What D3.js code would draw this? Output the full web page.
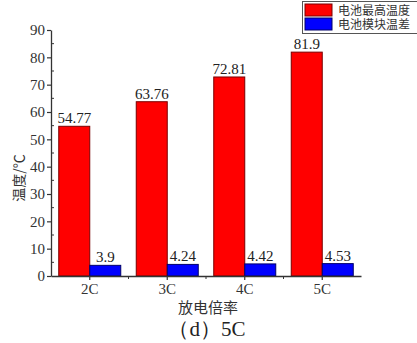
<!DOCTYPE html>
<html>
<head>
<meta charset="utf-8">
<script src="https://cdn.jsdelivr.net/npm/d3@7/dist/d3.min.js"></script>
<style>
  html, body { margin: 0; padding: 0; background: #fff; }
  svg { display: block; }
</style>
</head>
<body>
<svg id="chart" width="417" height="343"></svg>
<script>
// Discharge rates and the two measured series
const categories = ["2C", "3C", "4C", "5C"];
const seriesNames = ["电池最高温度", "电池模块温差"];
const maxTemp = [54.77, 63.76, 72.81, 81.9];
const tempDiff = [3.9, 4.24, 4.42, 4.53];
const yTicks = [0, 10, 20, 30, 40, 50, 60, 70, 80, 90];
const seriesColors = ["#ff0000", "#0000ff"];
const seriesStrokes = ["#7a0000", "#00006a"];

const rows = categories.map((c, i) => ({ cat: c, values: [maxTemp[i], tempDiff[i]] }));

const svg = d3.select("#chart");
const serif = "'Liberation Serif', 'Times New Roman', serif";
const cjk = "'Noto Sans CJK SC', sans-serif";

const x0 = d3.scaleBand().domain(categories).range([51, 361]).paddingInner(0.2).paddingOuter(0.1);
const x1 = d3.scaleBand().domain([0, 1]).range([0, x0.bandwidth()]).padding(0);
const y = d3.scaleLinear().domain([0, 90]).range([276, 30]);

// Bars
const groups = svg.append("g").selectAll("g")
  .data(rows).join("g")
  .attr("transform", d => `translate(${x0(d.cat)},0)`);

groups.selectAll("rect")
  .data(d => d.values.map((v, k) => ({ v, k })))
  .join("rect")
  .attr("x", d => x1(d.k))
  .attr("y", d => y(d.v))
  .attr("width", x1.bandwidth())
  .attr("height", d => y(0) - y(d.v))
  .attr("fill", d => seriesColors[d.k])
  .attr("stroke", d => seriesStrokes[d.k])
  .attr("stroke-width", 1);

// Value labels above each bar
groups.selectAll("text")
  .data(d => d.values.map((v, k) => ({ v, k })))
  .join("text")
  .attr("x", d => x1(d.k) + x1.bandwidth() / 2)
  .attr("y", d => y(d.v) - 3)
  .attr("text-anchor", "middle")
  .attr("font-family", serif)
  .attr("font-size", 15)
  .attr("fill", "#222")
  .text(d => d.v);

// Y axis with minor ticks
const yAxis = svg.append("g").attr("transform", "translate(51,0)")
  .call(d3.axisLeft(y).tickValues(yTicks).tickSize(4).tickPadding(2).tickSizeOuter(0));
yAxis.selectAll("text").attr("font-family", serif).attr("font-size", 15).attr("fill", "#333");
yAxis.select(".domain").attr("stroke", "#333").attr("stroke-width", 1.3);
yAxis.selectAll(".tick line").attr("stroke", "#333").attr("stroke-width", 1.2);
svg.append("g").selectAll("line")
  .data(d3.range(5, 90, 10)).join("line")
  .attr("x1", 51).attr("x2", 54)
  .attr("y1", d => y(d)).attr("y2", d => y(d))
  .attr("stroke", "#333").attr("stroke-width", 1);

// X axis
const xAxis = svg.append("g").attr("transform", "translate(0,276)")
  .call(d3.axisBottom(x0).tickSize(4).tickPadding(3).tickSizeOuter(0));
xAxis.select(".domain").attr("stroke", "#333").attr("stroke-width", 1.3);
xAxis.selectAll(".tick line").attr("stroke", "#333").attr("stroke-width", 1.2);
xAxis.selectAll("text").attr("font-family", serif).attr("font-size", 15).attr("fill", "#333");
svg.append("g").selectAll("line")
  .data(categories.slice(1)).join("line")
  .attr("x1", d => x0(d) - x0.step() * x0.paddingInner() / 2)
  .attr("x2", d => x0(d) - x0.step() * x0.paddingInner() / 2)
  .attr("y1", 276).attr("y2", 279)
  .attr("stroke", "#333").attr("stroke-width", 1);

// Axis titles
svg.append("text")
  .attr("transform", "translate(24,178) rotate(-90)")
  .attr("text-anchor", "middle")
  .attr("font-family", cjk)
  .attr("font-size", 14)
  .attr("fill", "#333")
  .text("温度/℃");

svg.append("text")
  .attr("x", 208).attr("y", 313)
  .attr("text-anchor", "middle")
  .attr("font-family", cjk)
  .attr("font-size", 15)
  .attr("fill", "#333")
  .text("放电倍率");

svg.append("text")
  .attr("x", 207).attr("y", 336)
  .attr("text-anchor", "middle")
  .attr("font-family", serif)
  .attr("font-size", 21)
  .attr("fill", "#222")
  .text("（d）5C");

// Legend
const legend = svg.append("g");
legend.append("rect")
  .attr("x", 302.5).attr("y", 1.5).attr("width", 130).attr("height", 32)
  .attr("fill", "#fff").attr("stroke", "#555").attr("stroke-width", 1);
seriesNames.forEach((name, k) => {
  legend.append("rect")
    .attr("x", 305).attr("y", 4 + k * 14).attr("width", 27).attr("height", 12)
    .attr("fill", seriesColors[k]).attr("stroke", seriesStrokes[k]);
  legend.append("text")
    .attr("x", 338).attr("y", 14.5 + k * 14)
    .attr("font-family", cjk)
    .attr("font-size", 12)
    .attr("fill", "#333")
    .text(name);
});
</script>
</body>
</html>
